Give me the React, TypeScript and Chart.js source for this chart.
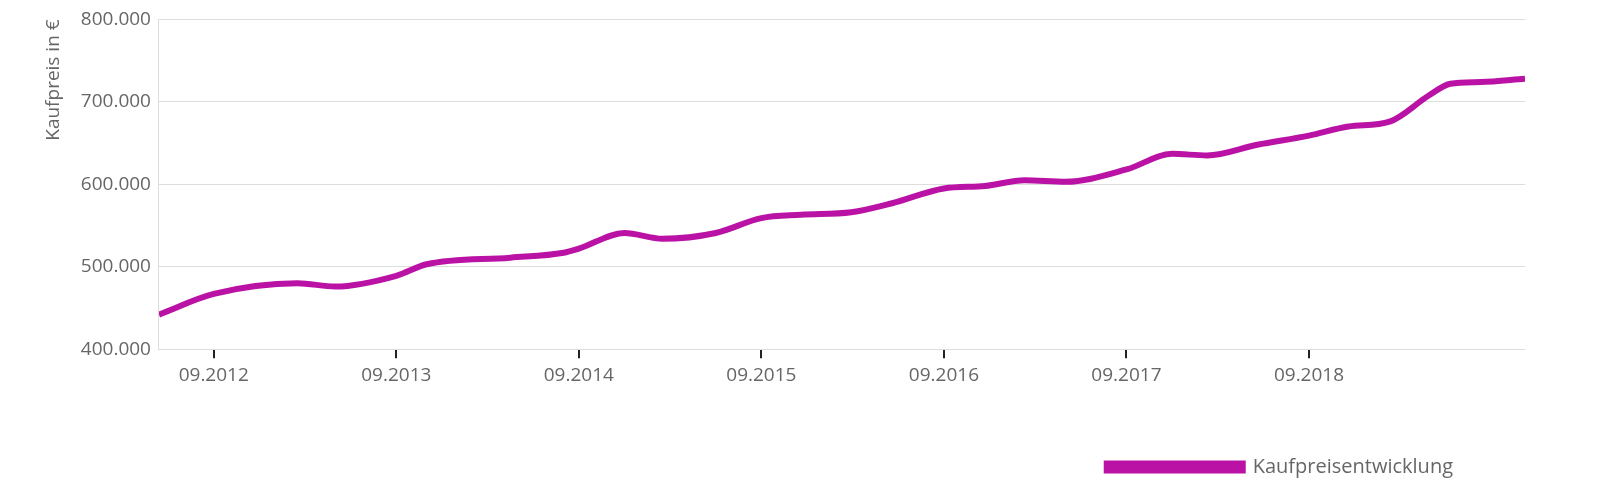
import React, { useEffect, useRef } from "react";
import { Chart, registerables } from "chart.js";
Chart.register(...registerables);

const months = [-3.6, 0, 5.5, 8, 12, 14, 19.5, 23, 24, 27, 29.5, 33, 36, 38.6, 41.9, 44.6, 48, 50.7, 53.3, 56, 60, 63, 65.3, 68.6, 72, 74.6, 77.3, 79.9, 81.3, 83.3, 86.2];
const prices = [442000, 467000, 480000, 476000, 489000, 503000, 511000, 517000, 522000, 541000, 534000, 541000, 559000, 563000, 566000, 577000, 595000, 598000, 605000, 603000, 618000, 637000, 635000, 648000, 659000, 670000, 676000, 708000, 722000, 724000, 728000];
const tickLabels = ["09.2012", "09.2013", "09.2014", "09.2015", "09.2016", "09.2017", "09.2018"];
const seriesName = "Kaufpreisentwicklung";

const shiftLegend = {
  id: "shiftLegend",
  afterLayout(chart: any) {
    const lg = chart.legend;
    if (!lg) return;
    lg.left -= 60;
    lg.right -= 60;
    if (lg.adjustHitBoxes) lg.adjustHitBoxes();
  },
};

export default function App() {
  const ref = useRef<HTMLCanvasElement>(null);
  useEffect(() => {
    const color = "#bb12a6";
    const font = { family: "Open Sans", size: 19 };
    const chart = new Chart(ref.current!, {
      type: "line",
      data: {
        datasets: [{
          label: seriesName,
          data: months.map((m, i) => ({ x: m, y: prices[i] })),
          borderColor: color,
          backgroundColor: color,
          borderWidth: 6,
          pointRadius: 0,
          tension: 0.4,
          cubicInterpolationMode: "monotone",
        }],
      },
      plugins: [shiftLegend],
      options: {
        animation: false,
        responsive: false,
        layout: { padding: { left: 30, right: 67, top: 2, bottom: 5 } },
        plugins: {
          tooltip: { enabled: false },
          legend: {
            position: "bottom",
            align: "end",
            labels: { boxWidth: 136, boxHeight: 7, color: "#666", font: { family: "Open Sans", size: 20 }, padding: 12 },
          },
        },
        scales: {
          x: {
            type: "linear",
            min: -3.6,
            max: 86.2,
            afterBuildTicks: (s: any) => { s.ticks = tickLabels.map((_, i) => ({ value: i * 12 })); },
            afterFit: (s: any) => { s.height += 52; },
            ticks: {
              callback: (v: any) => tickLabels[Math.round(v / 12)] ?? "",
              color: "#666", font, padding: 6, maxRotation: 0, autoSkip: false,
            },
            grid: { drawOnChartArea: false, color: "#222", lineWidth: 2, tickLength: 9, offset: false },
            border: { display: false },
          },
          y: {
            min: 400000,
            max: 800000,
            ticks: { stepSize: 100000, color: "#666", font, padding: 8, callback: (v: any) => Number(v).toLocaleString("de-DE") },
            grid: { color: "#ddd", drawTicks: false, lineWidth: 1 },
            border: { display: true, color: "#ddd" },
            title: { display: true, text: "Kaufpreis in €", align: "end", color: "#666", font, padding: { bottom: 8 } },
          },
        },
      },
    });
    return () => chart.destroy();
  }, []);
  return <canvas ref={ref} width={1584} height={492} style={{ display: "block", margin: "-8px 0 0 0" }} />;
}
